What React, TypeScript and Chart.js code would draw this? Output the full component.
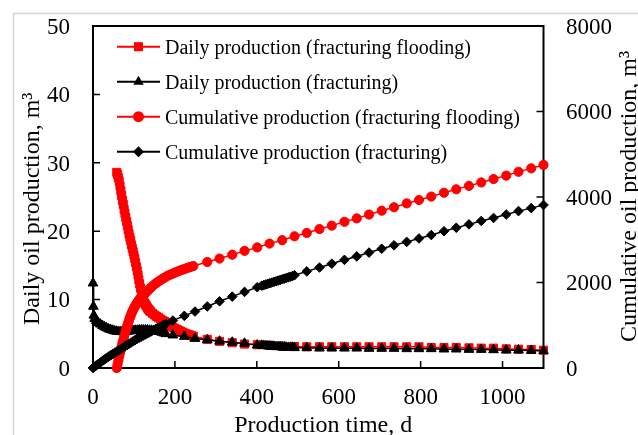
import React, { useEffect, useRef } from 'react';
import { Chart, registerables } from 'chart.js';

Chart.register(...registerables);

// ---- Data ----
const floodDays = [
  58, 60, 62, 64, 66, 68, 70, 72, 74, 76, 78, 80, 82, 84, 86, 88, 90, 92, 94, 96, 98, 100,
  102, 104, 106, 108, 110, 112, 114, 116, 118, 120, 122, 124, 126, 128, 130, 132, 134, 136, 138, 140,
  145, 150, 155, 160, 165, 170, 175, 180, 185, 190, 195, 200, 205, 210, 215, 220, 225, 230, 235, 240, 245,
  279, 309, 340, 370, 401, 431, 462, 492, 522, 553, 583, 614, 644, 674, 705, 735, 766, 796, 826,
  857, 887, 918, 948, 978, 1009, 1039, 1070, 1100,
];
const floodDaily = [
  28.6, 28.3, 27.8, 27.3, 26.6, 25.9, 25.2, 24.5, 23.9, 23.2, 22.6, 22.0, 21.4, 20.8, 20.2, 19.6,
  19.1, 18.6, 18.0, 17.5, 17.0, 16.5, 16.0, 15.4, 14.8, 14.2, 13.6, 12.9, 12.3, 11.7, 11.1, 10.6,
  10.2, 9.8, 9.5, 9.3, 9.1, 8.9, 8.7, 8.55, 8.4, 8.25,
  8.0, 7.75, 7.55, 7.35, 7.15, 6.95, 6.8, 6.6, 6.4, 6.15, 5.95, 5.8, 5.65, 5.5, 5.35, 5.2, 5.05,
  4.95, 4.85, 4.75, 4.65,
  4.2, 3.9, 3.7, 3.5, 3.4, 3.3, 3.2, 3.15, 3.1, 3.1, 3.1, 3.1, 3.1, 3.1, 3.1, 3.1, 3.1, 3.1,
  3.0, 3.0, 3.0, 2.95, 2.9, 2.9, 2.8, 2.75, 2.7, 2.6,
];
const floodCum = [
  0, 90, 180, 265, 350, 430, 510, 585, 655, 730, 800, 870, 935, 1000, 1060, 1120, 1175, 1225,
  1275, 1320, 1360, 1400, 1435, 1470, 1500, 1530, 1560, 1585, 1610, 1635, 1660, 1680, 1700, 1720,
  1740, 1755, 1775, 1795, 1815, 1835, 1850, 1870,
  1910, 1955, 1990, 2025, 2055, 2090, 2115, 2145, 2170, 2190, 2210, 2230, 2250, 2270, 2290, 2305,
  2320, 2340, 2355, 2370, 2385,
  2480, 2560, 2650, 2740, 2820, 2910, 2990, 3080, 3160, 3250, 3330, 3420, 3500, 3590, 3680, 3760,
  3850, 3930, 4010, 4100, 4180, 4260, 4340, 4420, 4500, 4590, 4670, 4750,
];

const fracDays = [
  0, 1, 2, 4, 8, 13, 18, 23, 28, 33, 38, 43, 48, 53, 58, 63, 68, 73, 78, 83, 88, 93, 98, 103,
  108, 113, 118, 123, 128, 133, 138, 143, 148, 153, 158, 163, 168, 173, 178,
  195, 223, 249, 279, 309, 340, 370, 401,
  412, 417, 422, 427, 432, 437, 442, 447, 452, 457, 462, 467, 472, 477, 482, 487,
  492, 522, 553, 583, 614, 644, 674, 705, 735, 766, 796, 826, 857, 887, 918, 948, 978, 1009,
  1039, 1070, 1100,
];
const fracDaily = [
  12.4, 9.0, 7.7, 7.2, 6.9, 6.6, 6.4, 6.2, 6.0, 5.85, 5.7, 5.6, 5.5, 5.4, 5.35, 5.3, 5.3, 5.3,
  5.3, 5.35, 5.4, 5.4, 5.45, 5.5, 5.5, 5.55, 5.55, 5.55, 5.55, 5.55, 5.5, 5.5, 5.45, 5.4, 5.35,
  5.3, 5.2, 5.1, 5.0,
  4.8, 4.6, 4.3, 4.1, 3.9, 3.75, 3.6, 3.35,
  3.3, 3.25, 3.25, 3.2, 3.2, 3.15, 3.15, 3.1, 3.1, 3.1, 3.05, 3.05, 3.0, 3.0, 3.0, 3.0,
  2.95, 2.95, 2.9, 2.9, 2.9, 2.9, 2.85, 2.85, 2.85, 2.8, 2.8, 2.8, 2.75, 2.75, 2.7, 2.7, 2.65,
  2.6, 2.6, 2.55, 2.5,
];
const fracCum = [
  0, 10, 18, 30, 60, 95, 130, 165, 200, 235, 265, 295, 325, 355, 385, 415, 445, 475, 505, 535,
  565, 595, 625, 655, 685, 710, 735, 760, 785, 810, 835, 860, 885, 910, 935, 960, 985, 1010, 1035,
  1110, 1220, 1320, 1440, 1560, 1670, 1780, 1890,
  1925, 1940, 1955, 1970, 1985, 2000, 2015, 2030, 2045, 2060, 2075, 2090, 2105, 2120, 2135, 2150,
  2170, 2260, 2350, 2440, 2530, 2610, 2700, 2790, 2870, 2950, 3030, 3110, 3200, 3280, 3360, 3440,
  3510, 3590, 3670, 3740, 3813,
];

const xTicks = [0, 200, 400, 600, 800, 1000];
const yLeftTicks = [0, 10, 20, 30, 40, 50];
const yRightTicks = [0, 2000, 4000, 6000, 8000];
const seriesLabels = [
  'Daily production (fracturing flooding)',
  'Daily production (fracturing)',
  'Cumulative production (fracturing flooding)',
  'Cumulative production (fracturing)',
];
const xTitle = 'Production time, d';
const yLeftTitle = 'Daily oil production, m\u00B3';
const yRightTitle = 'Cumulative oil production, m\u00B3';

const RED = '#ff0000';
const BLACK = '#000000';
const FONT = '"Liberation Serif", "Times New Roman", serif';

const pts = (xs: number[], ys: number[]) => xs.map((x, i) => ({ x, y: ys[i] }));

function drawMarker(ctx: CanvasRenderingContext2D, style: string, x: number, y: number, color: string) {
  ctx.save();
  ctx.fillStyle = color;
  ctx.beginPath();
  if (style === 'rect') {
    ctx.rect(x - 4.5, y - 4.5, 9, 9);
  } else if (style === 'triangle') {
    const r = 6;
    ctx.moveTo(x, y - r);
    ctx.lineTo(x + r * 0.866, y + r * 0.5);
    ctx.lineTo(x - r * 0.866, y + r * 0.5);
    ctx.closePath();
  } else if (style === 'circle') {
    ctx.arc(x, y, 5.5, 0, Math.PI * 2);
  } else {
    const r = 5.5;
    ctx.moveTo(x, y - r);
    ctx.lineTo(x + r, y);
    ctx.lineTo(x, y + r);
    ctx.lineTo(x - r, y);
    ctx.closePath();
  }
  ctx.fill();
  ctx.restore();
}

const decorPlugin = {
  id: 'decor',
  beforeDatasetsDraw(chart: any) {
    const ctx: CanvasRenderingContext2D = chart.ctx;
    const { left, right, top, bottom } = chart.chartArea;
    ctx.save();
    // light outer border
    ctx.strokeStyle = '#d4d4d4';
    ctx.lineWidth = 1.5;
    ctx.beginPath();
    ctx.moveTo(13.5, 435);
    ctx.lineTo(13.5, 13.5);
    ctx.lineTo(638, 13.5);
    ctx.stroke();
    // tick marks (inside)
    ctx.strokeStyle = BLACK;
    ctx.lineWidth = 1.5;
    ctx.beginPath();
    xTicks.forEach((v) => {
      const px = chart.scales.x.getPixelForValue(v);
      ctx.moveTo(px, bottom);
      ctx.lineTo(px, bottom - 7);
    });
    yLeftTicks.forEach((v) => {
      const py = chart.scales.y.getPixelForValue(v);
      ctx.moveTo(left, py);
      ctx.lineTo(left + 7, py);
    });
    yRightTicks.forEach((v) => {
      const py = chart.scales.y2.getPixelForValue(v);
      ctx.moveTo(right, py);
      ctx.lineTo(right - 7, py);
    });
    ctx.stroke();
    // frame
    ctx.lineWidth = 2;
    ctx.strokeRect(left, top, right - left, bottom - top);
    ctx.restore();
  },
  afterDraw(chart: any) {
    const ctx: CanvasRenderingContext2D = chart.ctx;
    const { left, right } = chart.chartArea;
    ctx.save();
    ctx.fillStyle = BLACK;
    // tick labels
    ctx.font = `23px ${FONT}`;
    ctx.textBaseline = 'alphabetic';
    ctx.textAlign = 'center';
    xTicks.forEach((v) => {
      const px = chart.scales.x.getPixelForValue(v);
      ctx.fillText(String(v), px, 403.5);
    });
    ctx.textAlign = 'right';
    yLeftTicks.forEach((v) => {
      const py = chart.scales.y.getPixelForValue(v);
      ctx.fillText(String(v), left - 23, py + 7.8);
    });
    ctx.textAlign = 'left';
    yRightTicks.forEach((v) => {
      const py = chart.scales.y2.getPixelForValue(v);
      ctx.fillText(String(v), right + 22.5, py + 7.8);
    });
    // axis titles
    ctx.font = `24px ${FONT}`;
    ctx.textAlign = 'center';
    ctx.fillText(xTitle, (left + right) / 2 + 5, 432);
    ctx.save();
    ctx.translate(38.5, 325);
    ctx.rotate(-Math.PI / 2);
    ctx.textAlign = 'left';
    ctx.fillText(yLeftTitle, 0, 0);
    ctx.restore();
    ctx.save();
    ctx.translate(636, 342);
    ctx.rotate(-Math.PI / 2);
    ctx.textAlign = 'left';
    ctx.fillText(yRightTitle, 0, 0);
    ctx.restore();
    // legend
    const styles = ['rect', 'triangle', 'circle', 'rectRot'];
    const colors = [RED, BLACK, RED, BLACK];
    ctx.font = `20px ${FONT}`;
    ctx.textAlign = 'left';
    seriesLabels.forEach((label, i) => {
      const cy = 46.7 + i * 35;
      ctx.strokeStyle = colors[i];
      ctx.lineWidth = 2;
      ctx.beginPath();
      ctx.moveTo(117, cy);
      ctx.lineTo(160, cy);
      ctx.stroke();
      drawMarker(ctx, styles[i], 138.5, cy, colors[i]);
      ctx.fillStyle = BLACK;
      ctx.fillText(label, 165, cy + 6.8);
    });
    ctx.restore();
  },
};

export default function App() {
  const canvasRef = useRef<HTMLCanvasElement | null>(null);

  useEffect(() => {
    if (!canvasRef.current) return;
    const mk = (
      label: string,
      data: { x: number; y: number }[],
      color: string,
      pointStyle: string,
      radius: number,
      yAxisID: string,
      order: number,
    ) => ({
      label,
      data,
      yAxisID,
      order,
      showLine: true,
      borderColor: color,
      backgroundColor: color,
      borderWidth: 1.5,
      pointStyle,
      pointRadius: radius,
      pointBorderWidth: 1,
      pointBorderColor: color,
      pointBackgroundColor: color,
      clip: false,
    });

    const chart = new Chart(canvasRef.current, {
      type: 'scatter',
      data: {
        datasets: [
          mk(seriesLabels[0], pts(floodDays, floodDaily), RED, 'rect', 5.7, 'y', 4),
          mk(seriesLabels[1], pts(fracDays, fracDaily), BLACK, 'triangle', 5.6, 'y', 3),
          mk(seriesLabels[2], pts(floodDays, floodCum), RED, 'circle', 4.6, 'y2', 2),
          mk(seriesLabels[3], pts(fracDays, fracCum), BLACK, 'rectRot', 4.8, 'y2', 1),
        ] as any,
      },
      options: {
        responsive: false,
        animation: false,
        devicePixelRatio: 1,
        layout: { padding: { top: 26, left: 0, right: 0, bottom: 0 } },
        plugins: { legend: { display: false }, tooltip: { enabled: false } },
        scales: {
          x: {
            type: 'linear',
            min: 0,
            max: 1100,
            grid: { display: false },
            border: { display: false },
            ticks: { display: false },
            afterFit: (s: any) => { s.height = 67; },
          },
          y: {
            type: 'linear',
            position: 'left',
            min: 0,
            max: 50,
            grid: { display: false },
            border: { display: false },
            ticks: { display: false },
            afterFit: (s: any) => { s.width = 93; },
          },
          y2: {
            type: 'linear',
            position: 'right',
            min: 0,
            max: 8000,
            grid: { display: false },
            border: { display: false },
            ticks: { display: false },
            afterFit: (s: any) => { s.width = 94.5; },
          },
        },
      } as any,
      plugins: [decorPlugin],
    });
    return () => chart.destroy();
  }, []);

  return (
    <div style={{ position: 'absolute', left: 0, top: 0, width: 638, height: 435, background: '#fff' }}>
      <canvas ref={canvasRef} width={638} height={435} style={{ display: 'block' }} />
    </div>
  );
}
